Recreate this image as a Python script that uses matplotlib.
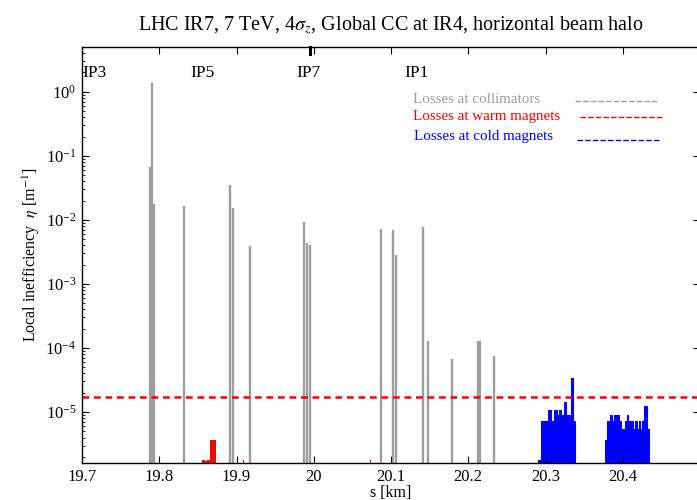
import numpy as np
import matplotlib
matplotlib.use("Agg")
import matplotlib.pyplot as plt
import matplotlib.transforms as mtransforms
from matplotlib.ticker import FixedLocator, LogLocator, NullFormatter

plt.rcParams['font.family'] = ['Liberation Serif', 'DejaVu Serif']
plt.rcParams['mathtext.fontset'] = 'stix'

# losses at collimators: position [km], local inefficiency [1/m]
coll_s = [19.788, 19.790, 19.7928, 19.832, 19.8915, 19.8957, 19.917,
          19.987, 19.991, 19.9953, 20.087, 20.102, 20.107, 20.1415,
          20.1485, 20.1796, 20.2123, 20.2149, 20.233]
coll_eta = [0.066, 1.37, 0.0178, 0.0166, 0.035, 0.0155, 0.0039,
            0.0092, 0.0044, 0.0041, 0.0071, 0.0070, 0.0028, 0.0078,
            1.28e-4, 6.7e-5, 1.3e-4, 1.3e-4, 7.6e-5]

# losses at warm magnets (bin left edge, bin width, eta)
warm_s = [19.8555, 19.8575, 19.8595, 19.8615, 19.8635, 19.8657, 19.8677,
          19.8697, 19.8715, 19.9080, 20.0728]
warm_w = [0.002, 0.002, 0.002, 0.002, 0.0022, 0.002, 0.002, 0.0018, 0.0015,
          0.0015, 0.0015]
warm_eta = [1.8e-6, 1.8e-6, 1.75e-6, 1.8e-6, 1.8e-6, 3.6e-6, 3.6e-6, 3.6e-6,
            3.6e-6, 1.8e-6, 1.8e-6]

# losses at cold magnets, two clusters of histogram bins
cold1_edges = [20.2903, 20.2947, 20.3033, 20.3067, 20.3110, 20.3154, 20.3175,
               20.3197, 20.3240, 20.3270, 20.3304, 20.3335, 20.3356, 20.3386]
cold1_eta = [1.8e-6, 7.2e-6, 1.08e-5, 7.2e-6, 1.08e-5, 9.0e-6, 1.08e-5,
             9.0e-6, 1.44e-5, 9.0e-6, 9.0e-6, 3.4e-5, 7.2e-6]
cold2_edges = [20.3766, 20.3796, 20.3831, 20.3861, 20.3882, 20.3947, 20.3973,
               20.4029, 20.4055, 20.4072, 20.4132, 20.4158, 20.4184, 20.4210,
               20.4227, 20.4249, 20.4275, 20.4309, 20.4335]
cold2_eta = [3.6e-6, 7.2e-6, 9.0e-6, 7.2e-6, 9.0e-6, 7.2e-6, 5.4e-6, 7.2e-6,
             9.0e-6, 7.2e-6, 5.4e-6, 7.2e-6, 5.4e-6, 7.2e-6, 5.4e-6, 7.2e-6,
             1.26e-5, 5.4e-6]

threshold = 1.71e-5

ip_names = ["IP3", "IP5", "IP7", "IP1"]
ip_s = [19.700, 19.840, 19.978, 20.117]

xticks = [19.7, 19.8, 19.9, 20.0, 20.1, 20.2, 20.3, 20.4]
xtick_labels = ["19.7", "19.8", "19.9", "20", "20.1", "20.2", "20.3", "20.4"]
yticks = [1e-5, 1e-4, 1e-3, 1e-2, 1e-1, 1e0]

ymin, ymax = 1.6e-6, 5.0

fig = plt.figure(figsize=(6.97, 5.0), dpi=100)
ax = fig.add_axes([82/697, 37/500, 618/697, 416/500])

gray = '#9d9d9d'
ax.vlines(coll_s, ymin, coll_eta, color=gray, lw=1.7)
ax.bar(warm_s, np.array(warm_eta) - ymin, width=warm_w, align='edge',
       color='red', bottom=ymin, edgecolor='none')
for edges, eta in [(cold1_edges, cold1_eta), (cold2_edges, cold2_eta)]:
    ax.stairs(eta, edges, baseline=ymin, fill=True, color='blue', lw=0)
    ax.stairs(eta, edges, baseline=ymin, fill=False, color='blue', lw=0.8)

ax.axhline(threshold, color='red', lw=1.8, ls=(0, (2.7, 1.9)))

ax.set_yscale('log')
ax.set_xlim(19.7, 20.5)
ax.set_ylim(ymin, ymax)
ax.set_xticks(xticks)
ax.set_xticklabels(xtick_labels)
ax.yaxis.set_major_locator(FixedLocator(yticks))
ax.yaxis.set_minor_locator(LogLocator(base=10, subs=np.arange(2, 10), numticks=20))
ax.yaxis.set_minor_formatter(NullFormatter())
ax.tick_params(which='both', direction='in', top=True, right=True,
               labelsize=12)
ax.tick_params(axis='x', pad=4)
ax.tick_params(axis='y', pad=4)
ax.tick_params(which='major', length=5, width=0.8)
ax.tick_params(which='minor', length=2.5, width=0.6, right=False)
ax.tick_params(axis='x', which='minor', bottom=False, top=False)
for sp in ax.spines.values():
    sp.set_linewidth(1.0)

# thick marker at top
ax.axvline(19.9945, ymin=0.982, ymax=1.0, color='k', lw=2.2, clip_on=False)

trans = mtransforms.blended_transform_factory(ax.transData, ax.transAxes)
for name, s in zip(ip_names, ip_s):
    ax.text(s, 0.9375, name, transform=trans, ha='left', va='center',
            fontsize=12.5)

# legend made of labels and dashed samples
leg = [("Losses at collimators", gray, 0.536, 0.875, 0.871, 0.798, 0.932),
       ("Losses at warm magnets", 'red', 0.536, 0.832, 0.831, 0.806, 0.940),
       ("Losses at cold magnets", 'blue', 0.537, 0.784, 0.776, 0.801, 0.935)]
for label, c, tx, ty, ly, x0, x1 in leg:
    ax.text(tx, ty, label, transform=ax.transAxes, color=c, fontsize=10.8,
            ha='left', va='center')
    ax.plot([x0, x1], [ly, ly], transform=ax.transAxes, color=c, lw=1.0,
            ls=(0, (4, 1.5)))

ax.set_title(r"LHC IR7, 7 TeV, 4$\sigma_z$, Global CC at IR4, horizontal beam halo",
             fontsize=14.5, pad=12)
ax.set_xlabel("s [km]", fontsize=11.5)
ax.xaxis.set_label_coords(0.5, -0.053)
ax.set_ylabel(r"Local inefficiency  $\eta$ [m$^{-1}$]", fontsize=11.5)
ax.yaxis.set_label_coords(-0.065, 0.5)

fig.savefig("out.png", dpi=100)
